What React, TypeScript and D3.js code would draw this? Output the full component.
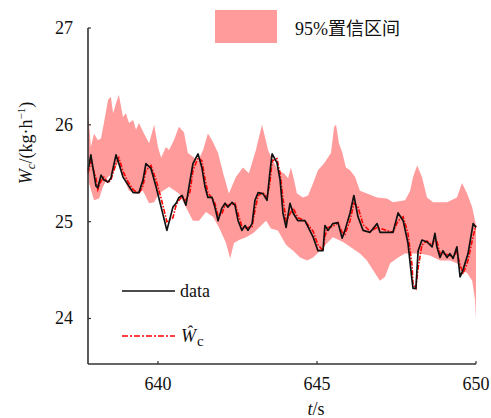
import React from "react";
import * as d3 from "d3";

// measured series (time in s, W_c in kg/h)
const tData = [
  637.8, 637.89, 638.05, 638.11, 638.21, 638.3, 638.43, 638.52, 638.68, 638.77,
  638.9, 639.06, 639.22, 639.4, 639.53, 639.62, 639.78, 639.94, 640.1, 640.28,
  640.47, 640.57, 640.66, 640.76, 640.88, 641.01, 641.1, 641.26, 641.38, 641.48,
  641.57, 641.7, 641.79, 641.89, 642.01, 642.11, 642.2, 642.33, 642.42, 642.52,
  642.64, 642.74, 642.83, 642.96, 643.05, 643.15, 643.3, 643.43, 643.52, 643.59,
  643.74, 643.84, 643.93, 644.03, 644.15, 644.25, 644.4, 644.62, 644.88, 645.03,
  645.19, 645.25, 645.35, 645.5, 645.66, 645.79, 645.88, 646.04, 646.16, 646.29,
  646.45, 646.67, 646.89, 646.98, 647.39, 647.55, 647.71, 647.86, 647.99, 648.02,
  648.11, 648.18, 648.3, 648.46, 648.62, 648.71, 648.77, 648.87, 648.96, 649.09,
  649.18, 649.28, 649.4, 649.5, 649.59, 649.75, 649.91, 650.0,
];
const wData = [
  25.53, 25.69, 25.37, 25.35, 25.48, 25.43, 25.41, 25.45, 25.69, 25.6,
  25.46, 25.38, 25.3, 25.3, 25.43, 25.6, 25.55, 25.36, 25.15, 24.91,
  25.15, 25.19, 25.25, 25.27, 25.17, 25.43, 25.6, 25.7, 25.56, 25.36,
  25.25, 25.25, 25.15, 25.01, 25.14, 25.19, 25.15, 25.2, 25.17, 25.01,
  24.91, 24.96, 24.91, 24.98, 25.22, 25.3, 25.29, 25.22, 25.51, 25.7,
  25.61, 25.43, 25.09, 24.94, 25.19, 25.09, 25.01, 25.01, 24.84, 24.7,
  24.7, 24.96, 24.91, 24.98, 24.99, 24.83, 24.91, 25.09, 25.27, 25.05,
  24.91, 24.89, 24.98, 24.89, 24.89, 25.09, 25.01, 24.78, 24.39, 24.31,
  24.31, 24.7, 24.81, 24.79, 24.74, 24.88, 24.74, 24.63, 24.7, 24.63,
  24.67, 24.62, 24.74, 24.43, 24.5, 24.67, 24.98, 24.94,
];
// model estimate, same time stamps
const wPred = [
  25.5, 25.62, 25.45, 25.33, 25.42, 25.46, 25.4, 25.43, 25.6, 25.66,
  25.52, 25.41, 25.33, 25.29, 25.37, 25.53, 25.58, 25.43, 25.24, 25.0,
  25.04, 25.17, 25.22, 25.26, 25.22, 25.31, 25.53, 25.66, 25.63, 25.44,
  25.3, 25.24, 25.19, 25.06, 25.08, 25.17, 25.17, 25.18, 25.19, 25.08,
  24.95, 24.93, 24.94, 24.95, 25.12, 25.27, 25.3, 25.25, 25.4, 25.63,
  25.65, 25.5, 25.24, 25.01, 25.08, 25.14, 25.04, 25.01, 24.9, 24.76,
  24.7, 24.85, 24.94, 24.95, 24.99, 24.89, 24.87, 25.01, 25.19, 25.15,
  24.97, 24.9, 24.94, 24.93, 24.89, 25.01, 25.05, 24.88, 24.55, 24.35,
  24.31, 24.52, 24.76, 24.8, 24.76, 24.82, 24.8, 24.67, 24.67, 24.66,
  24.65, 24.64, 24.69, 24.55, 24.46, 24.6, 24.85, 24.96,
];

// 95% confidence band edges
const tUpper = [
  637.8, 637.89, 637.99, 638.11, 638.21, 638.3, 638.43, 638.52, 638.59, 638.68,
  638.77, 638.9, 638.99, 639.09, 639.22, 639.31, 639.4, 639.56, 639.72, 639.88,
  640.0, 640.1, 640.25, 640.35, 640.5, 640.66, 640.82, 640.94, 641.1, 641.26,
  641.42, 641.57, 641.7, 641.89, 642.05, 642.23, 642.45, 642.67, 642.86, 643.08,
  643.27, 643.37, 643.46, 643.62, 643.77, 643.96, 644.09, 644.18, 644.28, 644.37,
  644.56, 644.72, 644.88, 645.03, 645.22, 645.44, 645.54, 645.6, 645.69, 645.79,
  645.91, 646.04, 646.2, 646.35, 646.57, 646.89, 647.2, 647.39, 647.77, 647.93,
  648.02, 648.15, 648.3, 648.46, 648.65, 649.09, 649.4, 649.56, 649.72, 649.88,
  650.0,
];
const wUpper = [
  26.15, 25.77, 25.91, 25.84, 25.86, 26.02, 26.26, 26.29, 26.12, 26.22,
  26.31, 26.08, 26.12, 26.02, 26.05, 25.95, 26.02, 25.91, 25.81, 26.0,
  25.77, 25.66, 25.77, 25.74, 25.84, 25.98, 25.92, 25.71, 25.67, 25.63,
  25.74, 25.91, 25.84, 25.71, 25.5, 25.29, 25.46, 25.56, 25.5, 25.74,
  26.0, 25.87, 25.74, 25.63, 25.53, 25.5, 25.45, 25.56, 25.43, 25.29,
  25.25, 25.27, 25.4, 25.53, 25.6, 25.71, 25.98, 26.0, 25.81, 25.72,
  25.56, 25.53, 25.46, 25.32, 25.29, 25.25, 25.24, 25.2, 25.22, 25.32,
  25.46, 25.58, 25.46, 25.25, 25.2, 25.2, 25.25, 25.4, 25.29, 25.15,
  24.96,
];
const tLower = [
  637.8, 637.83, 637.99, 638.15, 638.27, 638.43, 638.59, 638.74, 638.9, 639.09,
  639.31, 639.53, 639.72, 639.88, 640.03, 640.35, 640.66, 640.88, 641.1, 641.29,
  641.51, 641.73, 641.92, 642.14, 642.27, 642.39, 642.55, 642.77, 642.99, 643.18,
  643.4, 643.55, 643.77, 644.03, 644.25, 644.47, 644.69, 644.88, 645.1, 645.32,
  645.5, 645.82, 646.04, 646.35, 646.57, 646.76, 646.98, 647.14, 647.3, 647.55,
  647.77, 648.24, 648.55, 648.87, 649.18, 649.4, 649.56, 649.72, 649.88, 649.97,
  650.0,
];
const wLower = [
  25.48, 25.4, 25.22, 25.24, 25.36, 25.46, 25.5, 25.61, 25.46, 25.32,
  25.29, 25.32, 25.19, 25.2, 25.29, 25.36, 25.29, 25.15, 25.01, 25.01,
  25.1, 25.05, 24.94, 24.78, 24.62, 24.78, 24.81, 24.84, 24.88, 24.94,
  25.01, 24.93, 24.91, 24.76, 24.7, 24.63, 24.6, 24.63, 24.7, 24.78,
  24.84, 24.79, 24.74, 24.67, 24.6, 24.5, 24.39, 24.43, 24.57, 24.63,
  24.67, 24.67, 24.65, 24.6, 24.6, 24.57, 24.5, 24.47, 24.39, 24.19,
  24.0,
];

const xTicks = [640, 645, 650];
const yTicks = [24, 25, 26, 27];

const W = 491;
const H = 418;
const serif = "Liberation Serif, DejaVu Serif, serif";
const cjk = "Liberation Serif, Noto Sans CJK SC, serif";
const bandColor = "#ff9b9b";

export default function App() {
  const x = d3.scaleLinear().domain([637.8, 650]).range([88, 476]);
  const y = d3.scaleLinear().domain([23.53, 27]).range([364, 28]);

  const upper = tUpper.map((t, i) => [t, wUpper[i]]);
  const lower = tLower.map((t, i) => [t, wLower[i]]).reverse();
  const poly = d3
    .line<number[]>()
    .x((d) => x(d[0]))
    .y((d) => y(d[1]));
  const bandPath = poly([...upper, ...lower]) + "Z";

  const dataPath = poly(tData.map((t, i) => [t, wData[i]]));
  const predPath = poly(tData.map((t, i) => [t, wPred[i]]));

  const axisColor = "#333";
  const x0 = x.range()[0];
  const yB = y.range()[0];
  const txt = { fontFamily: serif };

  return (
    <svg
      width={W}
      height={H}
      style={{ position: "absolute", left: 0, top: 0, background: "#fff" }}
    >
      {/* band */}
      <path d={bandPath} fill={bandColor} stroke="none" />

      {/* estimate and data */}
      <path
        d={predPath}
        fill="none"
        stroke="#ff0000"
        strokeWidth={1.6}
        strokeDasharray="5,1.5,1.5,1.5"
      />
      <path d={dataPath} fill="none" stroke="#111" strokeWidth={1.7} strokeLinejoin="round" />

      {/* axes */}
      <line x1={x0} x2={x0} y1={y(27)} y2={yB} stroke={axisColor} strokeWidth={1.6} />
      <line x1={x0} x2={x.range()[1]} y1={yB} y2={yB} stroke={axisColor} strokeWidth={1.6} />
      {yTicks.map((v) => (
        <g key={v}>
          <line x1={x0} x2={x0 + 3} y1={y(v)} y2={y(v)} stroke={axisColor} strokeWidth={1.2} />
          <text x={73} y={y(v) + 6} fontSize={18} textAnchor="end" fill="#111" style={txt}>
            {v}
          </text>
        </g>
      ))}
      {xTicks.map((v) => (
        <g key={v}>
          <line x1={x(v)} x2={x(v)} y1={yB} y2={yB - 3} stroke={axisColor} strokeWidth={1.2} />
          <text x={x(v)} y={390} fontSize={18} textAnchor="middle" fill="#111" style={txt}>
            {v}
          </text>
        </g>
      ))}

      {/* axis titles */}
      <text x={316} y={415} fontSize={18} textAnchor="middle" fill="#111" style={txt}>
        <tspan fontStyle="italic">t</tspan>/s
      </text>
      <text
        transform="translate(32,143) rotate(-90)"
        fontSize={18}
        textAnchor="middle"
        fill="#111"
        style={txt}
      >
        <tspan fontStyle="italic">W</tspan>
        <tspan fontStyle="italic" fontSize={13} dy={3}>c</tspan>
        <tspan dy={-3}>/(kg·h</tspan>
        <tspan fontSize={11} dy={-7}>−1</tspan>
        <tspan dy={7}>)</tspan>
      </text>

      {/* top legend */}
      <rect x={215} y={10} width={62} height={33} fill={bandColor} />
      <text x={295} y={35} fontSize={18} fill="#111" style={{ fontFamily: cjk }}>
        95%置信区间
      </text>

      {/* lower legend */}
      <line x1={122} x2={175} y1={291} y2={291} stroke="#111" strokeWidth={1.7} />
      <text x={180} y={297} fontSize={18} fill="#111" style={txt}>
        data
      </text>
      <line
        x1={122}
        x2={175}
        y1={336}
        y2={336}
        stroke="#ff0000"
        strokeWidth={1.6}
        strokeDasharray="6,2,2,2"
      />
      <text x={181} y={342} fontSize={18} fill="#111" style={txt}>
        <tspan fontStyle="italic">Ŵ</tspan>
        <tspan fontSize={15} dx={1} dy={4}>c</tspan>
      </text>
    </svg>
  );
}
